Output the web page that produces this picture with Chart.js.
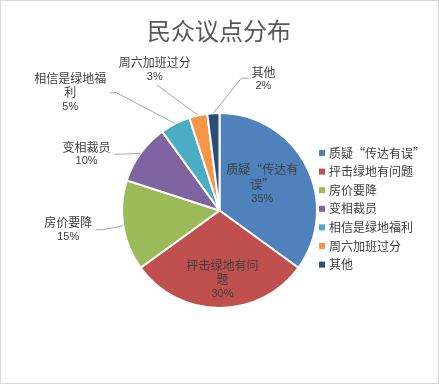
<!DOCTYPE html>
<html>
<head>
<meta charset="utf-8">
<script src="https://cdn.jsdelivr.net/npm/chart.js@4/dist/chart.umd.min.js"></script>
<style>
  body { margin: 0; background: #fff; }
</style>
</head>
<body>
<canvas id="graficoPizza" width="439" height="384"></canvas>
<script>
const titulo = '民众议点分布';
const categorias = ['质疑“传达有误”', '抨击绿地有问题', '房价要降', '变相裁员', '相信是绿地福利', '周六加班过分', '其他'];
const valores = [35, 30, 15, 10, 5, 3, 2];
const cores = ['#4F81BD', '#C0504D', '#9BBB59', '#8064A2', '#4BACC6', '#F79646', '#2C4D75'];

// onde cada rótulo fica (dentro da fatia ou fora com linha de chamada)
const posRotulos = [
    { tipo: 'dentro', r: 0.55, dx: -5, dy: -2 },
    { tipo: 'dentro', r: 0.71, dx: 3, dy: 0 },
    { tipo: 'fora', dx: -55, dy: 4, lado: 'direita' },
    { tipo: 'fora', dx: -54, dy: 1, lado: 'direita' },
    { tipo: 'fora', dx: -105, dy: -31, lado: 'direita' },
    { tipo: 'fora', dx: -43.5, dy: -46, lado: 'abaixo' },
    { tipo: 'fora', dx: 50, dy: -34, lado: 'esquerda' }
];

const fonteCJK = '"Noto Sans CJK SC", "Noto Sans", sans-serif';
const fonteNum = '"Liberation Sans", Arial, sans-serif';

function quebraTexto(ctx, texto, larguraMax) {
    let linhas = [];
    let atual = '';
    for (const c of texto) {
        if (atual && ctx.measureText(atual + c).width > larguraMax) {
            linhas.push(atual);
            atual = c;
        } else {
            atual += c;
        }
    }
    if (atual) linhas.push(atual);
    return linhas;
}

const pluginRotulos = {
    id: 'rotulos',
    beforeDraw(chart) {
        const ctx = chart.ctx;
        ctx.save();
        ctx.fillStyle = '#fff';
        ctx.fillRect(0, 0, chart.width, chart.height);
        ctx.strokeStyle = '#D9D9D9';
        ctx.lineWidth = 1;
        ctx.strokeRect(0.5, 0.5, chart.width - 1, chart.height - 1);

        ctx.fillStyle = '#595959';
        ctx.font = '24px ' + fonteCJK;
        ctx.textAlign = 'center';
        ctx.textBaseline = 'middle';
        ctx.fillText(titulo, 219, 31);
        ctx.restore();
    },
    afterDatasetsDraw(chart) {
        const ctx = chart.ctx;
        const meta = chart.getDatasetMeta(0);
        const total = valores.reduce((a, b) => a + b, 0);
        ctx.save();
        ctx.textAlign = 'center';
        ctx.textBaseline = 'middle';

        meta.data.forEach((arco, i) => {
            const p = arco.getProps(['x', 'y', 'startAngle', 'endAngle', 'outerRadius'], true);
            const meio = (p.startAngle + p.endAngle) / 2;
            const cfg = posRotulos[i];
            ctx.font = '12px ' + fonteCJK;
            const linhas = quebraTexto(ctx, categorias[i], 75);
            const pct = Math.round(valores[i] / total * 100) + '%';
            const largura = Math.max(...linhas.map(l => ctx.measureText(l).width));
            const lh = 14.5;
            const n = linhas.length + 1;

            let cx, cy;
            if (cfg.tipo === 'dentro') {
                cx = p.x + Math.cos(meio) * p.outerRadius * cfg.r + cfg.dx;
                cy = p.y + Math.sin(meio) * p.outerRadius * cfg.r + cfg.dy;
            } else {
                const bx = p.x + Math.cos(meio) * p.outerRadius;
                const by = p.y + Math.sin(meio) * p.outerRadius;
                cx = bx + cfg.dx;
                cy = by + cfg.dy;

                let ax, ay, ex, ey;
                if (cfg.lado === 'direita') {
                    ax = cx + largura / 2 + 4; ay = cy;
                    ex = ax + 6; ey = ay;
                } else if (cfg.lado === 'esquerda') {
                    ax = cx - largura / 2 - 3; ay = cy - 1;
                    ex = ax - 7; ey = ay;
                } else {
                    ax = cx + 2; ay = cy + n * lh / 2 + 1;
                    ex = ax; ey = ay;
                }
                ctx.strokeStyle = '#A6A6A6';
                ctx.lineWidth = 1;
                ctx.beginPath();
                ctx.moveTo(bx, by);
                ctx.lineTo(ex, ey);
                ctx.lineTo(ax, ay);
                ctx.stroke();
            }

            const y0 = cy - (n - 1) * lh / 2;
            ctx.fillStyle = '#404040';
            linhas.forEach((l, k) => {
                ctx.fillText(l, cx, y0 + k * lh);
            });
            ctx.font = '11px ' + fonteNum;
            ctx.fillText(pct, cx, y0 + linhas.length * lh);
        });

        // legenda à direita
        ctx.textAlign = 'left';
        ctx.font = '12px ' + fonteCJK;
        categorias.forEach((nome, i) => {
            const y = 153 + i * 18.6;
            ctx.fillStyle = cores[i];
            ctx.fillRect(319, y - 3, 6, 6);
            ctx.fillStyle = '#404040';
            ctx.fillText(nome, 329, y);
        });
        ctx.restore();
    }
};

const grafico = new Chart(document.getElementById('graficoPizza'), {
    type: 'pie',
    data: {
        labels: categorias,
        datasets: [{
            data: valores,
            backgroundColor: cores,
            borderColor: '#ffffff',
            borderWidth: 2
        }]
    },
    options: {
        responsive: false,
        animation: false,
        layout: {
            padding: { left: 121, right: 121, top: 112, bottom: 75 }
        },
        plugins: {
            legend: { display: false },
            title: { display: false },
            tooltip: { enabled: false }
        }
    },
    plugins: [pluginRotulos]
});
</script>
</body>
</html>
